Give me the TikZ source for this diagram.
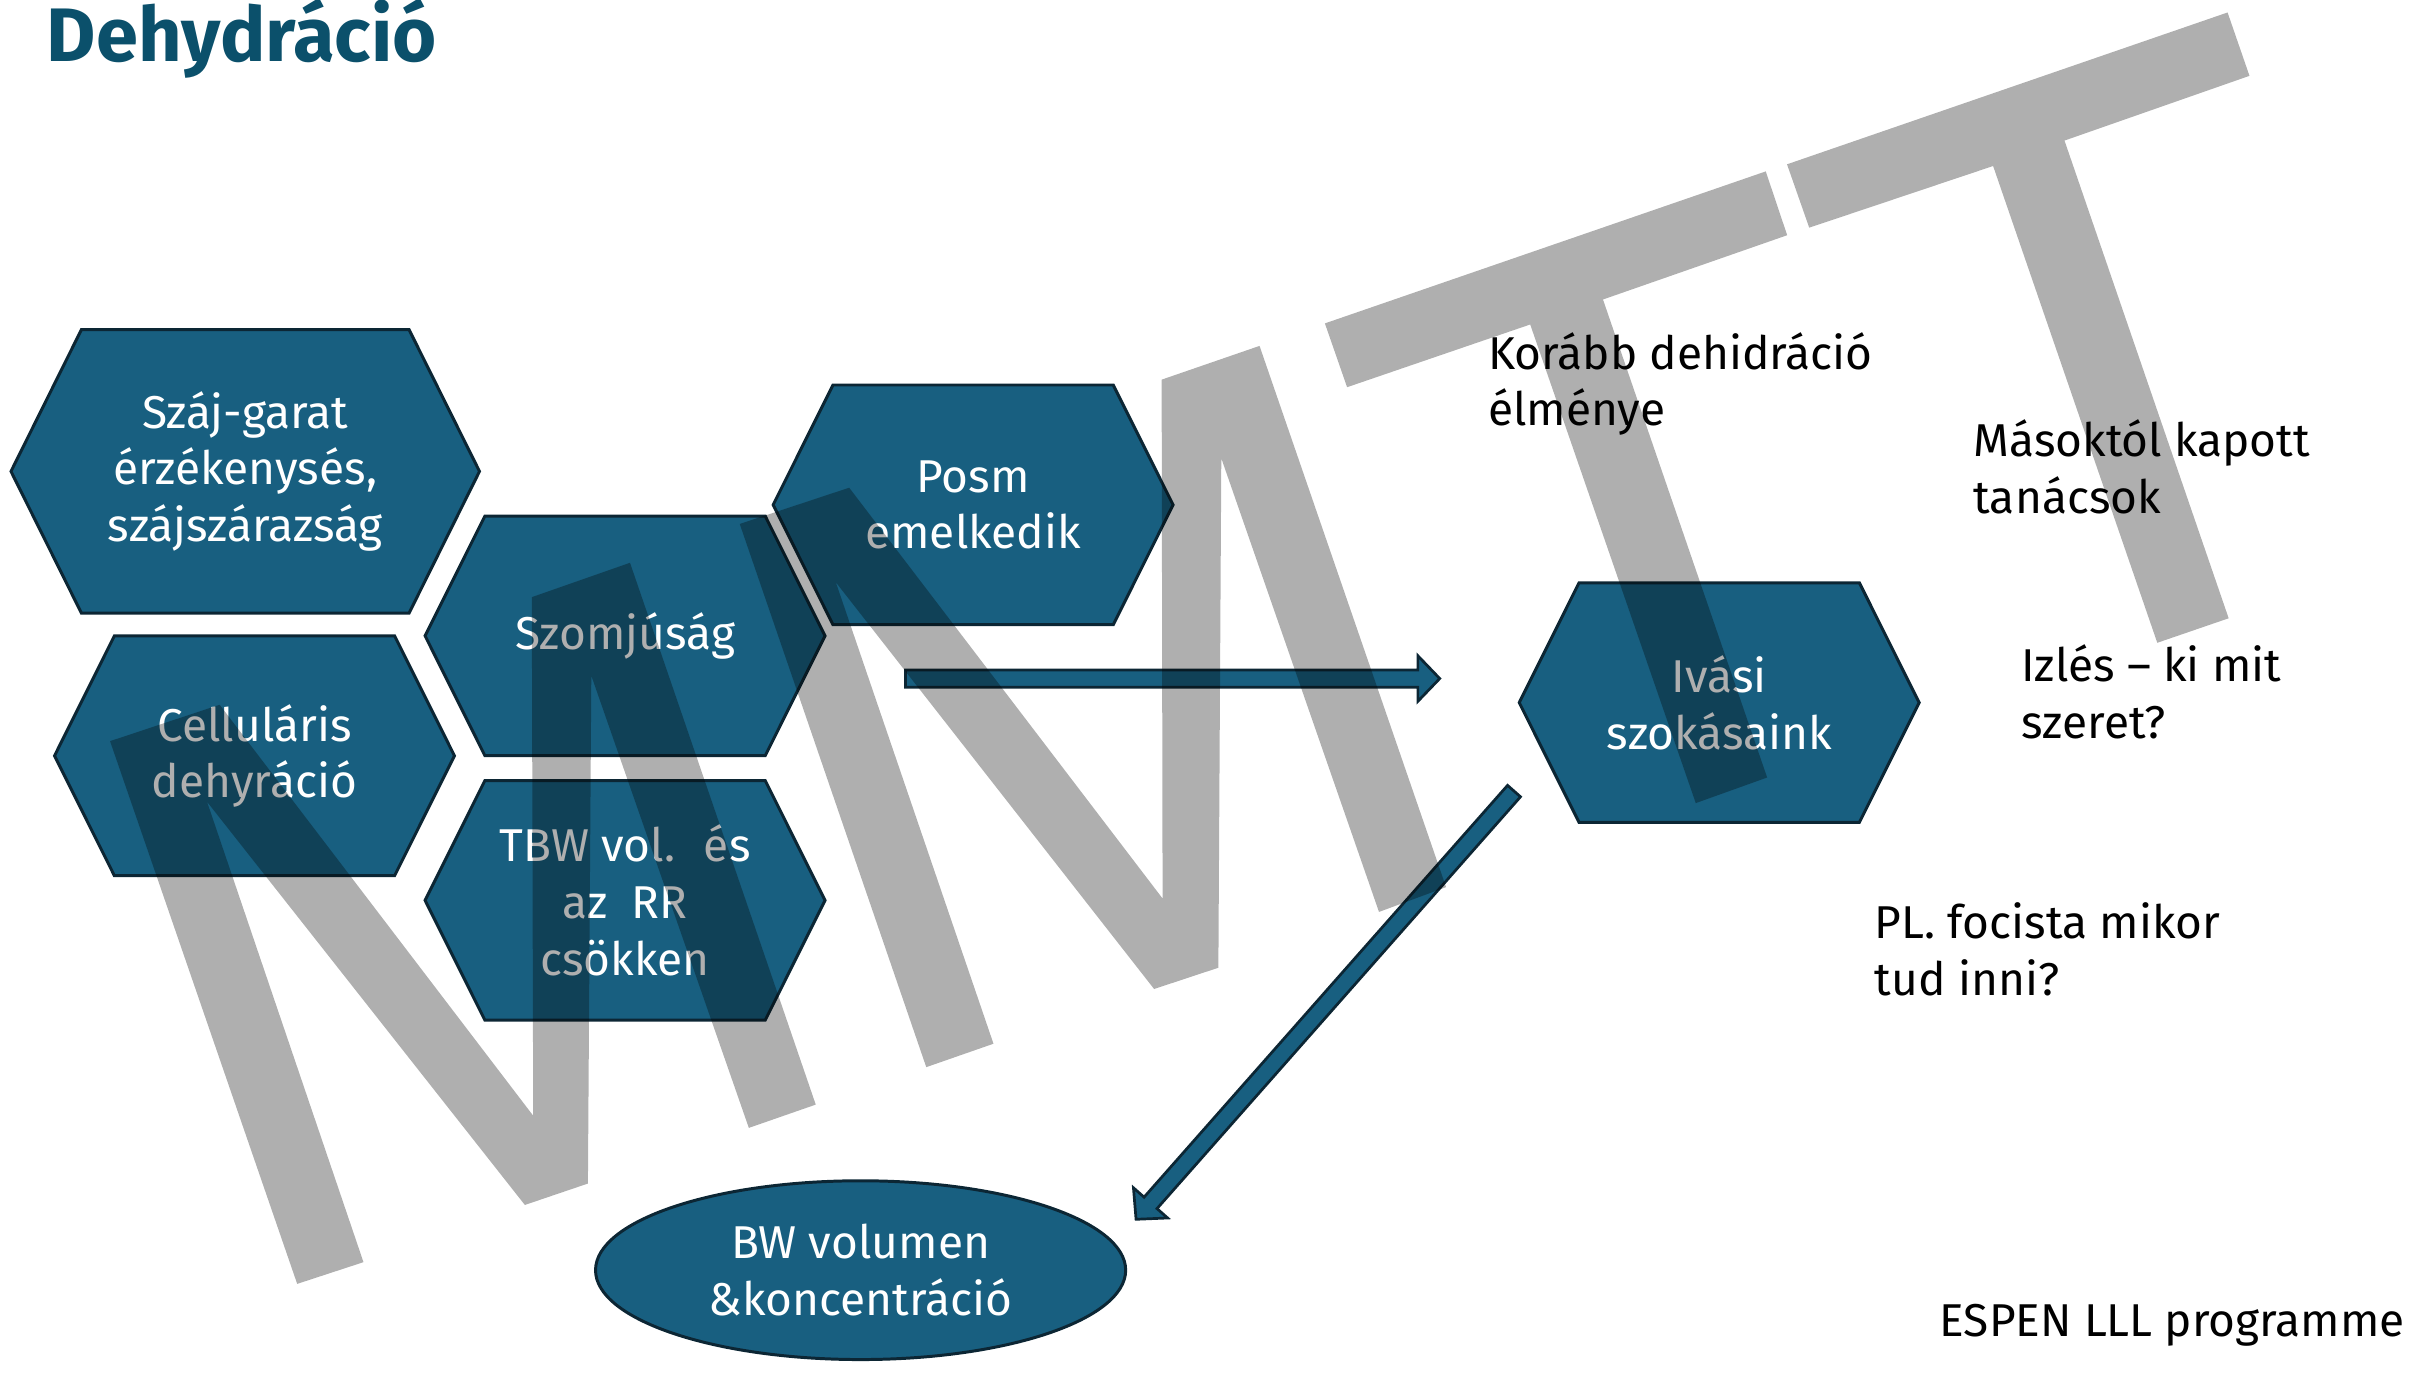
\documentclass[tikz,border=0pt]{standalone}
\usepackage{fontspec}
\setmainfont{Fira Sans}
\usetikzlibrary{calc,shapes.geometric,backgrounds}

\definecolor{hexblue}{RGB}{24,95,128}
\definecolor{hexedge}{RGB}{12,38,52}
\definecolor{titleblue}{RGB}{11,80,107}
\newcommand{\bodyfont}{\fontsize{17}{20.9}\selectfont}

\tikzset{
  hexbox/.style={minimum width=5.19cm, minimum height=3.11cm, inner sep=0pt, outer sep=0pt,
    text=white, align=center, font=\bodyfont},
  bigbox/.style={hexbox, minimum width=6.08cm, minimum height=3.68cm},
  hexline/.style={fill=hexblue, draw=hexedge, line width=1.1pt},
  note/.style={anchor=west, inner sep=0pt, align=left, font=\bodyfont},
  arrowbox/.style={fill=hexblue, draw=hexedge, line width=1pt},
  wmark/.style={fill=black, opacity=0.314}
}

% block arrow from #1 to #2
\newcommand{\blockarrow}[2]{%
  \filldraw[arrowbox] ($(#1)!0.112cm!90:(#2)$)
    -- ($(#2)!0.284cm!(#1)!0.112cm!-90:(#1)$)
    -- ($(#2)!0.284cm!(#1)!0.296cm!-90:(#1)$)
    -- (#2)
    -- ($(#2)!0.284cm!(#1)!0.296cm!90:(#1)$)
    -- ($(#2)!0.284cm!(#1)!0.112cm!90:(#1)$)
    -- ($(#1)!0.112cm!-90:(#2)$) -- cycle;}

\begin{document}
\begin{tikzpicture}[x=0.02cm, y=-0.02cm]
 \useasboundingbox (0,0) rectangle (1568,902);

 \node[anchor=base west, inner sep=0pt, text=titleblue, font=\fontsize{28}{32}\selectfont\bfseries] (title) at (30,40) {Dehydráció};

 \node[bigbox] (mouth)  at (159.1,305.8) {Száj-garat\\érzékenysés,\\szájszárazság};
 \node[hexbox] (cell)   at (165.1,490.3) {Celluláris\\dehyráció};
 \node[hexbox] (thirst) at (405.5,412.5) {Szomjúság};
 \node[hexbox] (tbw)    at (405.5,584.1) {TBW vol.~ és\\az~ RR\\csökken};
 \node[hexbox] (posm)   at (631.3,327.5) {Posm\\emelkedik};
 \node[hexbox] (habit)  at (1115.3,455.8) {Ivási\\szokásaink};

 \begin{scope}[on background layer]
  \foreach \n/\d in {mouth/45.7, cell/38.8, thirst/38.8, tbw/38.8, posm/38.8, habit/38.8}
   \filldraw[hexline] (\n.west) -- ($(\n.north west)+(\d,0)$) -- ($(\n.north east)-(\d,0)$)
     -- (\n.east) -- ($(\n.south east)-(\d,0)$) -- ($(\n.south west)+(\d,0)$) -- cycle;
 \end{scope}

 \node[ellipse, fill=hexblue, draw=hexedge, line width=1.1pt, minimum width=6.88cm, minimum height=2.32cm,
   inner sep=0pt, text=white, align=center, font=\bodyfont] (volume) at (558.3,824) {BW volumen\\\&koncentráció};

 \node[note] (past)   at (965,249) {Korább dehidráció\\élménye};
 \node[note] (advice) at (1280,303) {Másoktól kapott\\tanácsok};
 \node[note] (taste)  at (1311,449) {Izlés – ki mit\\szeret?};
 \node[note] (sport)  at (1216,616) {PL. focista mikor\\tud inni?};
 \node[note] (espen)  at (1258,860) {ESPEN LLL programme};

 \coordinate (a1s) at (587.4,440.2);
 \coordinate (a1e) at (934,440.2);
 \coordinate (a2s) at (982.2,513.2);
 \coordinate (a2e) at (737,791);
 \blockarrow{a1s}{a1e}
 \blockarrow{a2s}{a2e}

 % watermark
 \fill[wmark] (71.4,480.8) -- (142.5,457.2) -- (345.9,723.8) -- (345,387.4) -- (408.7,365.1) -- (529.2,716.6)
   -- (485.8,731.7) -- (383.6,438.3) -- (381.4,767.8) -- (340.5,781.7) -- (134.3,520.1) -- (235.8,818.8)
   -- (192.8,832.9) -- cycle;
 \fill[wmark] (479.9,339.9) -- (550.9,316.4) -- (754.2,582.9) -- (753.6,246.3) -- (817.1,224.4) -- (938.1,575.5)
   -- (894.6,591.6) -- (792.3,297.3) -- (790.4,627.8) -- (748.7,641.6) -- (542.2,377.7) -- (644.5,677.1)
   -- (600.9,692.3) -- cycle;
 \fill[wmark] (859.5,209.8) -- (1145.5,111.2) -- (1159.4,152.6) -- (1039.9,194.3) -- (1146.4,504.4)
   -- (1100.1,521) -- (992.7,210.5) -- (873.9,251.2) -- cycle;
 \fill[wmark] (1159.3,106.6) -- (1445.1,8.1) -- (1459.3,49.2) -- (1339.3,91.2) -- (1445.8,401.1)
   -- (1399.5,417) -- (1293,107.7) -- (1173.7,147.7) -- cycle;
\end{tikzpicture}
\end{document}
